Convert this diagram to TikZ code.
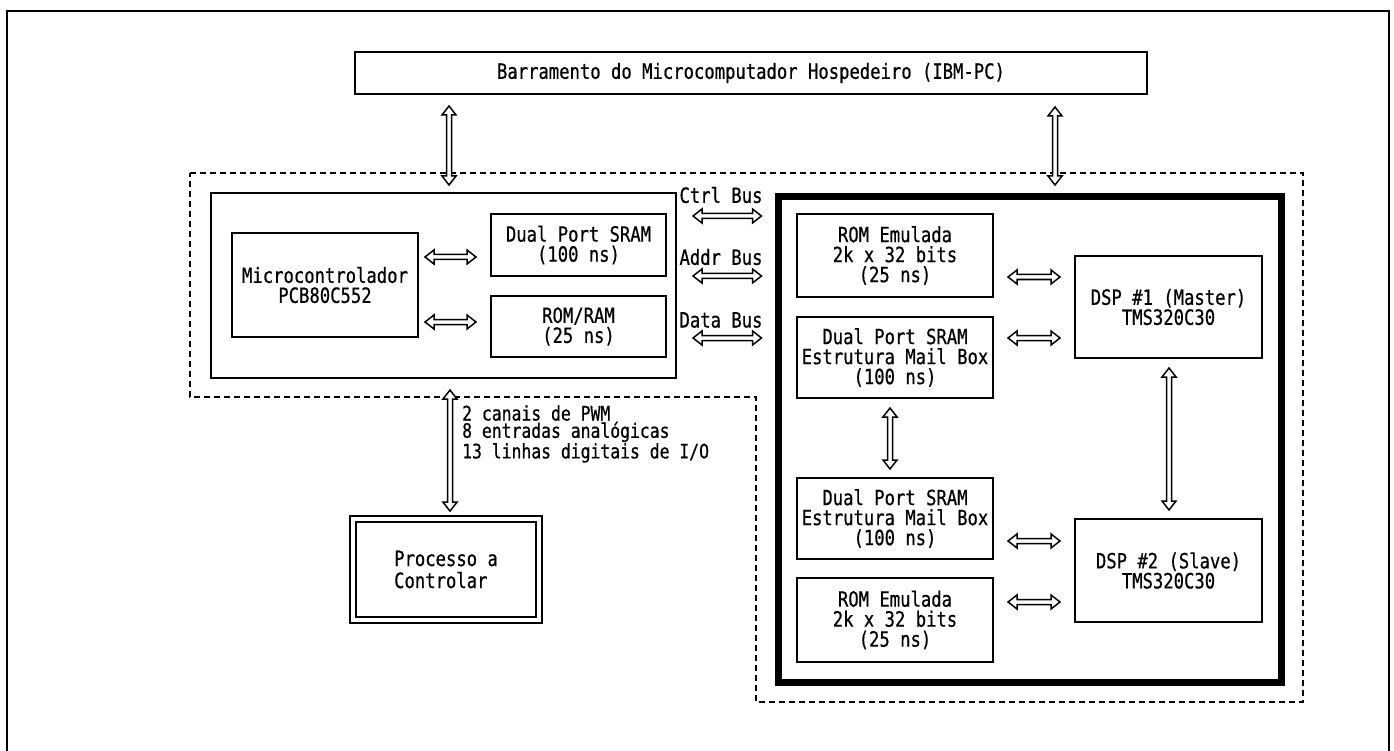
\documentclass[tikz,border=0pt]{standalone}
\usepackage{fontspec}
\newfontfamily\dotfont[FakeStretch=0.82,FakeBold=0.6]{DejaVu Sans Mono}
\usetikzlibrary{calc}
% hollow double-headed arrows (horizontal / vertical) between two points
\newcommand\harr[2]{\draw[arr] let \p1=#1, \p2=#2 in
  (\x1,\y1) -- ++(9pt,7pt) -- ++(0pt,-4.5pt) -- (\x2-9pt,\y1+2.5pt) -- ++(0pt,4.5pt)
  -- (\x2,\y1) -- ++(-9pt,-7pt) -- ++(0pt,4.5pt) -- (\x1+9pt,\y1-2.5pt) -- ++(0pt,-4.5pt) -- cycle;}
\newcommand\varr[2]{\draw[arr] let \p1=#1, \p2=#2 in
  (\x1,\y1) -- ++(7pt,-9pt) -- ++(-4.5pt,0pt) -- (\x1+2.5pt,\y2+9pt) -- ++(4.5pt,0pt)
  -- (\x1,\y2) -- ++(-7pt,9pt) -- ++(4.5pt,0pt) -- (\x1-2.5pt,\y1-9pt) -- ++(-4.5pt,0pt) -- cycle;}
\begin{document}
\begin{tikzpicture}[x=1pt,y=-1pt,
  txt/.style={font={\dotfont\fontsize{21}{20}\selectfont}},
  box/.style={draw, line width=2pt, inner sep=0pt, align=center, txt},
  dashline/.style={draw, line width=2.5pt, dash pattern=on 6pt off 4pt},
  arr/.style={line width=1.5pt, fill=white, line join=miter},
]
\useasboundingbox (0,0) rectangle (1394,751);
% outer frame
\draw[line width=2pt] (7,751) -- (7,11) -- (1389,11) -- (1389,751);

% host bus
\node[box, minimum width=792pt, minimum height=42pt] (bar) at (751,73) {Barramento do Microcomputador Hospedeiro (IBM-PC)};

% dashed outline
\draw[dashline] (190,173) -- (1303,173) -- (1303,702) -- (756,702) -- (756,397) -- (190,397) -- cycle;

% left block
\node[draw, line width=2pt, minimum width=465pt, minimum height=185pt] (lblock) at (443.5,285.5) {};
\node[box, minimum width=186pt, minimum height=104pt] (micro) at (325,285) {Microcontrolador\\PCB80C552};
\node[box, minimum width=175pt, minimum height=62pt] (sram1) at (578.5,245) {Dual Port SRAM\\(100 ns)};
\node[box, minimum width=175pt, minimum height=61pt] (romram) at (578.5,326.5) {ROM/RAM\\(25 ns)};

% right block
\node[draw, line width=7pt, minimum width=503pt, minimum height=485pt] (rblock) at (1029.5,439.5) {};
\node[box, minimum width=196pt, minimum height=83pt] (rom1) at (895,255.5) {ROM Emulada\\2k x 32 bits\\(25 ns)};
\node[box, minimum width=196pt, minimum height=81pt] (mb1) at (895,357.5) {Dual Port SRAM\\Estrutura Mail Box\\(100 ns)};
\node[box, minimum width=196pt, minimum height=81pt] (mb2) at (895,518.5) {Dual Port SRAM\\Estrutura Mail Box\\(100 ns)};
\node[box, minimum width=196pt, minimum height=84pt] (rom2) at (895,620) {ROM Emulada\\2k x 32 bits\\(25 ns)};
\node[box, minimum width=187pt, minimum height=102pt] (dsp1) at (1168.5,307) {DSP \#1 (Master)\\TMS320C30};
\node[box, minimum width=187pt, minimum height=103pt] (dsp2) at (1168.5,570.5) {DSP \#2 (Slave)\\TMS320C30};

% process
\node[draw, line width=1.7pt, double distance=4pt, inner sep=0pt, minimum width=186pt, minimum height=101pt, align=left, txt, font={\dotfont\fontsize{21}{22}\selectfont}] (proc) at (446,569.5) {Processo a\\Controlar};

% labels
\node[txt, inner sep=0pt] (lctrl) at (721,195) {Ctrl Bus};
\node[txt, inner sep=0pt] (laddr) at (721,257) {Addr Bus};
\node[txt, inner sep=0pt] (ldata) at (721,320) {Data Bus};
\node[inner sep=0pt, anchor=west, align=left, font={\dotfont\fontsize{20}{16}\selectfont}] (pwm) at (462,434) {2 canais de PWM\\8 entradas analógicas\\13 linhas digitais de I/O};

% level coordinates
\coordinate (ya) at (0,257);
\coordinate (yb) at (0,322);
\coordinate (yc) at (0,216);
\coordinate (yd) at (0,276);
\coordinate (ye) at (0,338);
\coordinate (yf) at (0,277);
\coordinate (yg) at (0,338);
\coordinate (yh) at (0,541);
\coordinate (yi) at (0,602);
\coordinate (h1) at (449,0);
\coordinate (h2) at (1055,0);
\coordinate (xm) at (890,0);
\coordinate (xd) at (1169,0);
\coordinate (xp) at (450,0);
\coordinate (dtop) at (0,185);

% connectors
\varr{($(bar.south -| h1)+(0,11)$)}{(dtop -| h1)}
\varr{($(bar.south -| h2)+(0,12)$)}{(dtop -| h2)}
\harr{($(micro.east |- ya)+(6,0)$)}{($(sram1.west |- ya)-(14,0)$)}
\harr{($(micro.east |- yb)+(6,0)$)}{($(romram.west |- yb)-(14,0)$)}
\harr{($(lblock.east |- yc)+(16,0)$)}{($(rblock.west |- yc)-(13,0)$)}
\harr{($(lblock.east |- yd)+(16,0)$)}{($(rblock.west |- yd)-(13,0)$)}
\harr{($(lblock.east |- ye)+(16,0)$)}{($(rblock.west |- ye)-(13,0)$)}
\harr{($(rom1.east |- yf)+(14,0)$)}{($(dsp1.west |- yf)-(14,0)$)}
\harr{($(mb1.east |- yg)+(14,0)$)}{($(dsp1.west |- yg)-(14,0)$)}
\harr{($(mb2.east |- yh)+(14,0)$)}{($(dsp2.west |- yh)-(14,0)$)}
\harr{($(rom2.east |- yi)+(14,0)$)}{($(dsp2.west |- yi)-(14,0)$)}
\varr{($(mb1.south -| xm)+(0,9)$)}{($(mb2.north -| xm)-(0,8)$)}
\varr{($(dsp1.south -| xd)+(0,9)$)}{($(dsp2.north -| xd)-(0,8)$)}
\varr{($(lblock.south -| xp)+(0,11)$)}{($(proc.north -| xp)-(0,7)$)}
\end{tikzpicture}
\end{document}
